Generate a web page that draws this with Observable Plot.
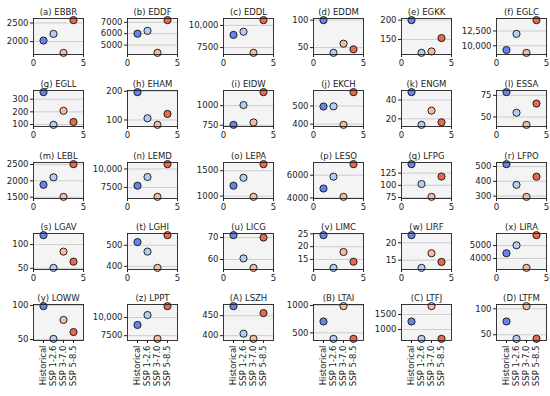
<!DOCTYPE html>
<html><head><meta charset="utf-8">
<script src="https://cdn.jsdelivr.net/npm/d3@7"></script>
<script src="https://cdn.jsdelivr.net/npm/@observablehq/plot@0.6"></script>
<style>
body{margin:0;background:#fff}
#chart{position:relative;width:550px;height:396px;font-family:"DejaVu Sans",sans-serif;overflow:hidden}
#chart svg{position:absolute;overflow:visible}
</style>
</head><body><div id="chart"></div>
<script>
const airports = ["EBBR","EDDF","EDDL","EDDM","EGKK","EGLC","EGLL","EHAM","EIDW","EKCH","ENGM","ESSA","LEBL","LEMD","LEPA","LESO","LFPG","LFPO","LGAV","LGHI","LICG","LIMC","LIRF","LIRA","LOWW","LPPT","LSZH","LTAI","LTFJ","LTFM"];
const letters = ["a","b","c","d","e","f","g","h","i","j","k","l","m","n","o","p","q","r","s","t","u","v","w","x","y","z","A","B","C","D"];
const scenarios = ["Historical","SSP 1-2.6","SSP 3-7.0","SSP 5-8.5"];
const historical = [2028, 6000, 8930, 100, 200, 9290, 356, 197, 755, 497, 48.3, 78.7, 1879, 7740, 1206, 4829, 143.4, 516, 120, 515, 71.1, 24.5, 22.2, 4403, 99, 8971, 474, 707, 1267, 75.6];
const ssp126 = [2207, 6250, 9286, 40.4, 115.3, 12018, 97, 106, 1009, 498, 13.6, 54.9, 2108, 8912, 1362, 5871, 102.7, 376, 51, 470, 60.5, 11.7, 12.8, 5020, 51, 10338, 405, 389, 688, 42.1];
const ssp370 = [1696, 4320, 6905, 57.1, 118.9, 8804, 208, 83, 786, 396, 28.7, 40.9, 1510, 6229, 986, 4092, 76.4, 295, 85.2, 393, 56.2, 17.9, 17, 3274, 78.8, 7059, 392, 988, 1779, 105.1];
const ssp585 = [2577, 7190, 10595, 46.8, 153.6, 14339, 120, 121, 1174, 576, 16.3, 65.5, 2510, 10650, 1630, 6977, 118, 431, 64.1, 548, 70, 14.1, 14.5, 5806, 61, 11559, 456.5, 390, 690, 42.3];
const yTicks = [[2000,2500],[5000,6000,7000],[7500,10000],[50,100],[150,200],[10000,12500],
  [100,200,300],[100,200],[750,1000],[400,500],[20,40],[50,75],
  [1500,2000,2500],[7500,10000],[1000,1500],[4000,6000],[75,100,125],[300,400,500],
  [50,100],[400,500],[60,70],[15,20,25],[15,20],[4000,5000],
  [50,100],[7500,10000],[400,450],[500,1000],[1000,1500],[50,100]];
const xTicksTop = [0, 5];
const colors = ["#6485ec", "#b3cdf9", "#f5bba1", "#e9694d"];

const colLeft = [33, 127, 223, 313, 401, 496];
const rowTop = [18, 90, 162, 233, 304];
const FW = 50, FH = 36;
const fmt = d => Math.abs(d) >= 10000 ? d3.format(",")(d) : String(d);
const chart = document.getElementById("chart");

airports.forEach((ap, i) => {
  const row = Math.floor(i / 6), col = i % 6;
  const vals = [historical[i], ssp126[i], ssp370[i], ssp585[i]];
  const data = scenarios.map((s, j) => ({pos: j + 1, scenario: s, value: vals[j]}));
  const lo = d3.min(vals), hi = d3.max(vals), pad = 0.05 * (hi - lo);
  const domain = [lo - pad, hi + pad];
  const ticks = yTicks[i].filter(t => t >= domain[0] && t <= domain[1]);
  const last = row === 4;
  const mL = 48, mR = 8, mT = 18, mB = last ? 60 : 18;
  const plot = Plot.plot({
    width: mL + FW + mR, height: mT + FH + mB,
    marginLeft: mL, marginRight: mR, marginTop: mT, marginBottom: mB,
    style: {fontFamily: "DejaVu Sans, sans-serif", fontSize: "8.5px", color: "#222", background: "transparent", overflow: "visible"},
    x: {domain: [0, 5]},
    y: {domain, nice: false},
    color: {type: "ordinal", domain: scenarios, range: colors},
    marks: [
      Plot.frame({fill: "#f4f4f4"}),
      Plot.gridY(ticks, {stroke: "#c4c4c4", strokeOpacity: 1, strokeWidth: 0.8}),
      last
        ? Plot.axisX([1, 2, 3, 4], {tickFormat: d => scenarios[d - 1], tickRotate: -90, tickSize: 3, tickPadding: 2, label: null})
        : Plot.axisX(xTicksTop, {tickFormat: d => String(d), tickSize: 3, tickPadding: 2, label: null}),
      Plot.axisY(ticks, {tickFormat: fmt, tickSize: 3, tickPadding: 2, label: null}),
      Plot.dot(data, {x: "pos", y: "value", fill: "scenario", stroke: "#111", strokeWidth: 0.9, r: 3.6}),
      Plot.frame({stroke: "#222", strokeWidth: 0.9}),
      Plot.text([`(${letters[i]}) ${ap}`], {text: d => d, frameAnchor: "top", lineAnchor: "bottom", dy: -4, fontSize: 8.5, fill: "#222"})
    ]
  });
  plot.style.left = (colLeft[col] - mL) + "px";
  plot.style.top = (rowTop[row] - mT) + "px";
  plot.style.maxWidth = "none";
  chart.appendChild(plot);
});
</script>
</body></html>
